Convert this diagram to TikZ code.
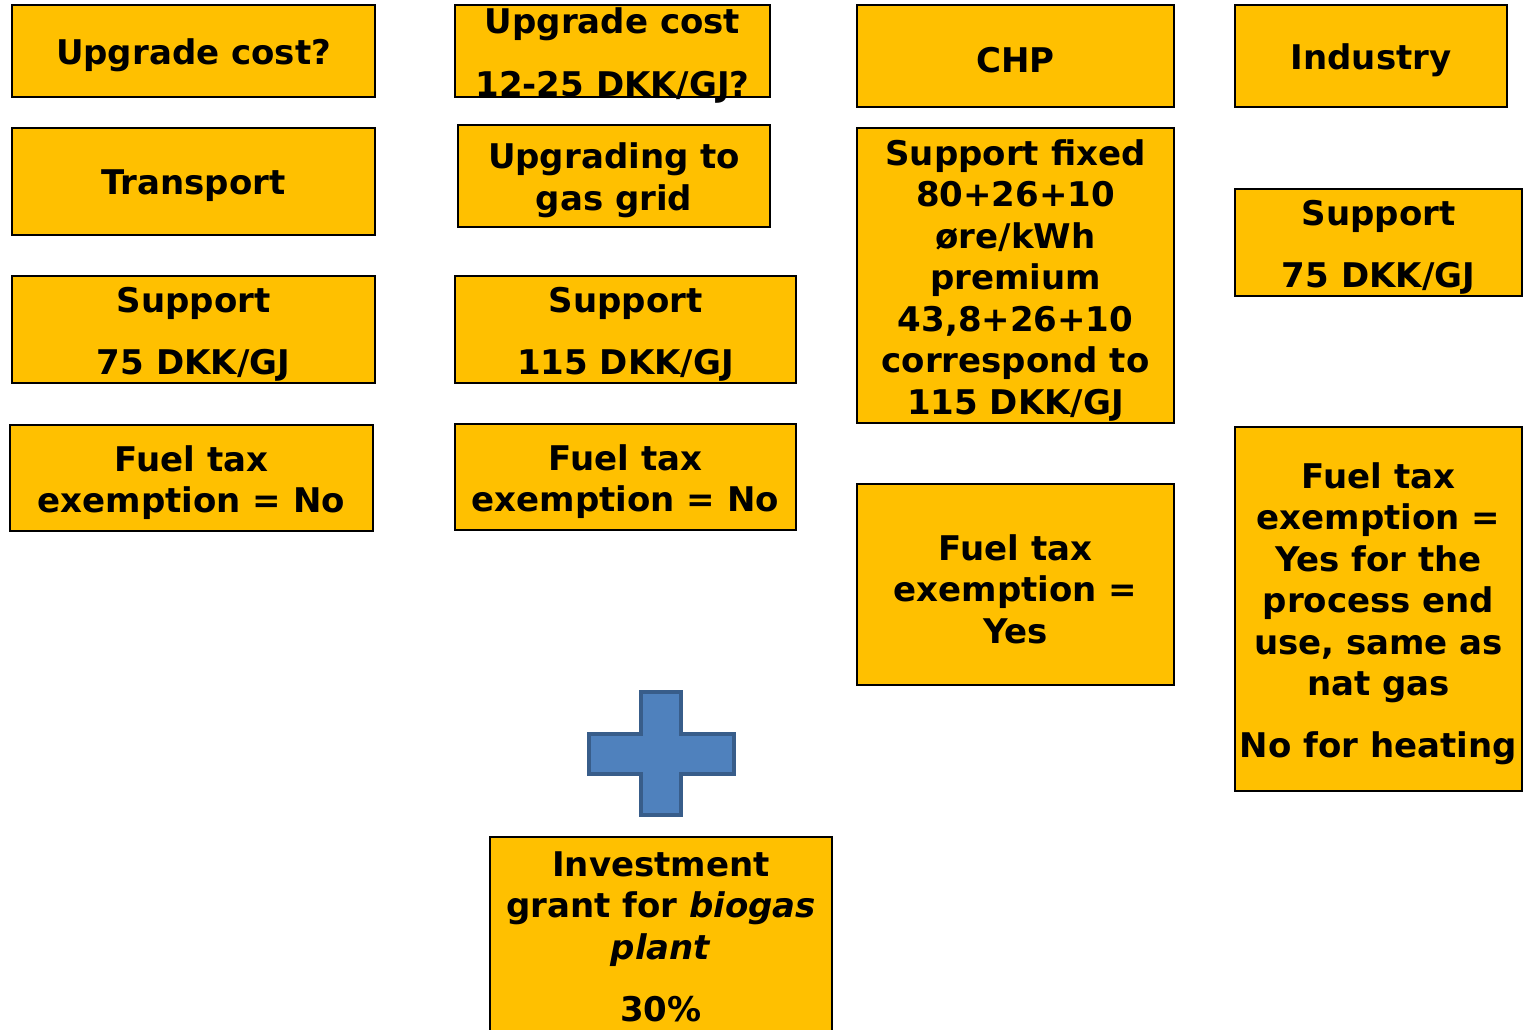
\documentclass[tikz,border=0pt]{standalone}
\usepackage{fontspec}
\setmainfont{DejaVu Sans}
\definecolor{boxyellow}{HTML}{FFC000}
\definecolor{plusfill}{HTML}{4F81BD}
\definecolor{plusline}{HTML}{385D8A}
\begin{document}
\begin{tikzpicture}[x=1pt,y=-1pt,
  ybox/.style={draw=black, line width=1.3pt, fill=boxyellow, inner sep=0pt},
  btxt/.style={inner sep=0pt, align=center, text=black,
    font=\fontsize{34}{41.5}\selectfont\bfseries},
  plusshape/.style={fill=plusfill, draw=plusline, line width=4pt}]
\useasboundingbox (0,0) rectangle (1524,1030);

\node[ybox, minimum width=363pt, minimum height=92pt] (upcost) at (193.5,51) {};
\node[btxt] (upcost-t) at ([yshift=-4.5pt]upcost.center) {Upgrade cost?};
\node[ybox, minimum width=315pt, minimum height=92pt] (upcostval) at (612.5,51) {};
\node[btxt] (upcostval-t) at ([yshift=-4.5pt]upcostval.center) {Upgrade cost\\[21pt]12-25 DKK/GJ?};
\node[ybox, minimum width=317pt, minimum height=102pt] (chp) at (1015.5,56) {};
\node[btxt] (chp-t) at ([yshift=-4.5pt]chp.center) {CHP};
\node[ybox, minimum width=272pt, minimum height=102pt] (industry) at (1371,56) {};
\node[btxt] (industry-t) at ([yshift=-4.5pt]industry.center) {Industry};

\node[ybox, minimum width=363pt, minimum height=107pt] (transport) at (193.5,181.5) {};
\node[btxt] (transport-t) at ([yshift=-4.5pt]transport.center) {Transport};
\node[ybox, minimum width=312pt, minimum height=102pt] (grid) at (614,176) {};
\node[btxt] (grid-t) at ([yshift=-4.5pt]grid.center) {Upgrading to\\gas grid};
\node[ybox, minimum width=317pt, minimum height=295pt] (chpsupport) at (1015.5,275.5) {};
\node[btxt] (chpsupport-t) at ([yshift=-4.5pt]chpsupport.center)
  {Support fixed\\80+26+10\\øre/kWh\\premium\\43,8+26+10\\correspond to\\115 DKK/GJ};
\node[ybox, minimum width=287pt, minimum height=107pt] (indsupport) at (1378.5,242.5) {};
\node[btxt] (indsupport-t) at ([yshift=-4.5pt]indsupport.center) {Support\\[20.5pt]75 DKK/GJ};

\node[ybox, minimum width=363pt, minimum height=107pt] (trsupport) at (193.5,329.5) {};
\node[btxt] (trsupport-t) at ([yshift=-4.5pt]trsupport.center) {Support\\[20.5pt]75 DKK/GJ};
\node[ybox, minimum width=341pt, minimum height=107pt] (gridsupport) at (625.5,329.5) {};
\node[btxt] (gridsupport-t) at ([yshift=-4.5pt]gridsupport.center) {Support\\[20.5pt]115 DKK/GJ};

\node[ybox, minimum width=363pt, minimum height=106pt] (trtax) at (191.5,478) {};
\node[btxt] (trtax-t) at ([yshift=-4.5pt]trtax.center) {Fuel tax\\exemption = No};
\node[ybox, minimum width=341pt, minimum height=106pt] (gridtax) at (625.5,477) {};
\node[btxt] (gridtax-t) at ([yshift=-4.5pt]gridtax.center) {Fuel tax\\exemption = No};
\node[ybox, minimum width=317pt, minimum height=201pt] (chptax) at (1015.5,584.5) {};
\node[btxt] (chptax-t) at ([yshift=-4.5pt]chptax.center) {Fuel tax\\exemption =\\Yes};
\node[ybox, minimum width=287pt, minimum height=364pt] (indtax) at (1378.5,609) {};
\node[btxt] (indtax-t) at ([yshift=-4.5pt]indtax.center)
  {Fuel tax\\exemption =\\Yes for the\\process end\\use, same as\\nat gas\\[20.5pt]No for heating};

\draw[plusshape] (641,692) -- (681,692) -- (681,734) -- (734,734) -- (734,774)
  -- (681,774) -- (681,815) -- (641,815) -- (641,774) -- (589,774) -- (589,734)
  -- (641,734) -- cycle;

\node[ybox, minimum width=342pt, minimum height=200pt] (grant) at (661,937) {};
\node[btxt] (grant-t) at ([yshift=0pt]grant.center)
  {Investment\\grant for \textit{biogas}\\\textit{plant}\\[21pt]30\%};
\end{tikzpicture}
\end{document}
